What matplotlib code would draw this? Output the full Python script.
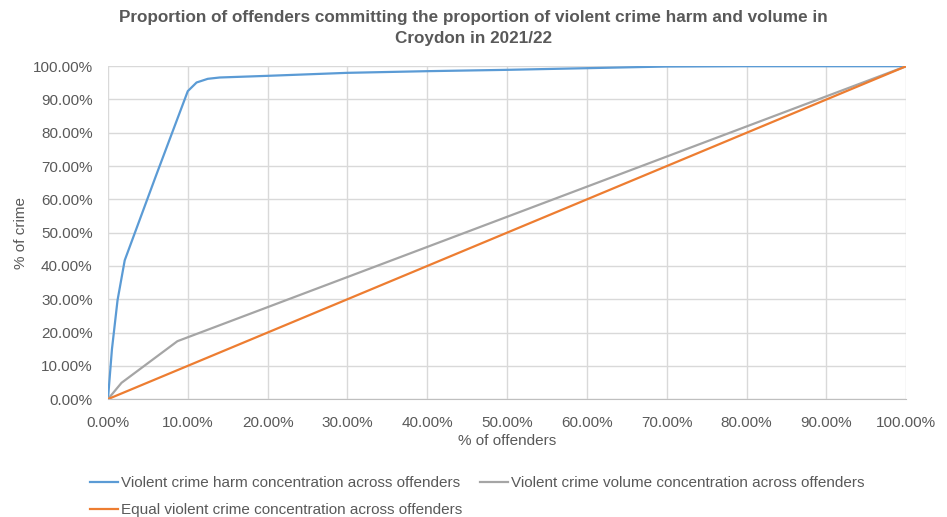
import matplotlib.pyplot as plt
from matplotlib.ticker import FuncFormatter, MultipleLocator

plt.rcParams["font.family"] = ["Liberation Sans", "DejaVu Sans"]

# values (percent)
harm_x = [0, 0.5, 1.2, 2.1, 6.0, 10.0, 11.1, 12.5, 14.0, 20.0, 30.0, 40.0, 50.0, 60.0, 70.0, 80.0, 90.0, 100.0]
harm_y = [0, 15.0, 29.7, 41.7, 67.0, 92.5, 95.1, 96.2, 96.6, 97.1, 98.0, 98.5, 98.9, 99.4, 99.9, 100.0, 100.0, 100.0]

volume_x = [0, 1.7, 8.7, 100.0]
volume_y = [0, 4.9, 17.4, 100.0]

equal_x = [0, 100.0]
equal_y = [0, 100.0]

title = ("Proportion of offenders committing the proportion of violent crime harm and volume in\n"
         "Croydon in 2021/22")

fig = plt.figure(figsize=(9.47, 5.17), dpi=100)
ax = fig.add_axes([0.114, 0.228, 0.843, 0.644])

h_harm, = ax.plot(harm_x, harm_y, color="#5B9BD5", lw=1.6,
                  label="Violent crime harm concentration across offenders")
h_vol, = ax.plot(volume_x, volume_y, color="#A5A5A5", lw=1.6,
                 label="Violent crime volume concentration across offenders")
h_eq, = ax.plot(equal_x, equal_y, color="#ED7D31", lw=1.6,
                label="Equal violent crime concentration across offenders")

ax.set_xlim(0, 100)
ax.set_ylim(0, 100)
ax.xaxis.set_major_locator(MultipleLocator(10))
ax.yaxis.set_major_locator(MultipleLocator(10))
pct = FuncFormatter(lambda v, _: f"{v:.2f}%")
ax.xaxis.set_major_formatter(pct)
ax.yaxis.set_major_formatter(pct)

ax.grid(True, color="#d9d9d9", lw=1)
ax.set_axisbelow(True)
for side in ["top", "right", "left"]:
    ax.spines[side].set_visible(False)
ax.spines["bottom"].set_color("#bfbfbf")
ax.tick_params(length=0, labelsize=11, colors="#595959")
ax.tick_params(axis="x", pad=12)
ax.tick_params(axis="y", pad=11)

ax.set_xlabel("% of offenders", fontsize=11, color="#595959", labelpad=3)
ax.set_ylabel("% of crime", fontsize=11, color="#595959", labelpad=3)

fig.text(0.5, 0.980, title, ha="center", va="top", fontsize=12.3,
         fontweight="bold", color="#595959", linespacing=1.45)

# Excel fills legend rows first; matplotlib fills columns, so reorder
fig.legend([h_harm, h_eq, h_vol], [h.get_label() for h in (h_harm, h_eq, h_vol)],
           loc="upper left", bbox_to_anchor=(0.095, 0.079), ncol=2, frameon=False,
           fontsize=11, labelcolor="#595959", borderpad=0, borderaxespad=0,
           handlelength=1.85, handletextpad=0.15, columnspacing=1.2, labelspacing=0.85)

fig.savefig("out.png", dpi=100)
